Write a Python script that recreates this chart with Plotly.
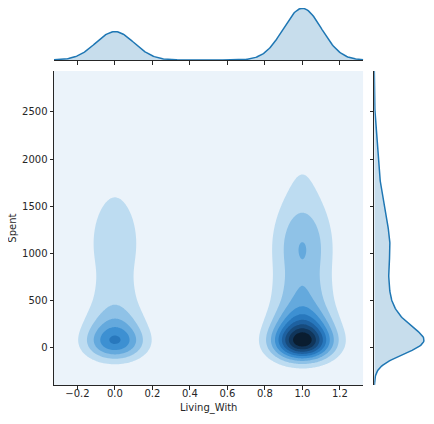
import numpy as np
import plotly.graph_objects as go

# ---------------- data ----------------
living_with_codes = [0, 1]            # x categories (0 = alone, 1 = with partner)
# Spent distribution of each group, described as bumps (centre, spread, height)
spent_centres = [45, 250, 480, 1000, 1400, 1950]
spent_spreads = [130, 140, 200, 330, 300, 300]
spent_heights_alone = [0.44, 0.168, 0.104, 0.14, 0.065, 0.04]
spent_heights_partner = [0.847, 0.323, 0.20, 0.27, 0.07, 0.07]
# kernel bandwidths along Living_With
bw_living_marginal = 0.102
bw_living_joint = 0.108

x_ticks = [-0.2, 0.0, 0.2, 0.4, 0.6, 0.8, 1.0, 1.2]
x_tick_labels = ["\u22120.2", "0.0", "0.2", "0.4", "0.6", "0.8", "1.0", "1.2"]
y_ticks = [0, 500, 1000, 1500, 2000, 2500]
y_tick_labels = ["0", "500", "1000", "1500", "2000", "2500"]
x_title = "Living_With"
y_title = "Spent"

# ---------------- derived densities ----------------
X_RANGE = [-0.325, 1.325]
Y_RANGE = [-400, 2935]
xg = np.linspace(X_RANGE[0], X_RANGE[1], 300)
yg = np.linspace(Y_RANGE[0], Y_RANGE[1], 300)


def profile(y, heights):
    out = np.zeros_like(y, dtype=float)
    for m, s, h in zip(spent_centres, spent_spreads, heights):
        out += h * np.exp(-0.5 * ((y - m) / s) ** 2)
    return out


def kernel(x, centre, bw):
    return np.exp(-0.5 * ((x - centre) / bw) ** 2) / (bw * np.sqrt(2 * np.pi))


group_heights = [spent_heights_alone, spent_heights_partner]
profiles = [profile(yg, h) for h in group_heights]
areas = [np.trapezoid(p, yg) for p in profiles]
shares = [a / sum(areas) for a in areas]

joint = np.zeros((len(yg), len(xg)))
for code, p in zip(living_with_codes, profiles):
    joint += np.outer(p, kernel(xg, code, bw_living_joint))
gx = sum(s * kernel(xg, c, bw_living_marginal) for s, c in zip(shares, living_with_codes))
fy = sum(profiles)

peak = joint.max()
step = 0.1 * peak

band_colors = ["#EBF3FA", "#BDDCF1", "#8FC2E7", "#64A9DD", "#3D90D2",
               "#2878BD", "#1E61A0", "#174B7D", "#10355A", "#0A1D30"]
n = len(band_colors)
colorscale = [[i / (n - 1), c] for i, c in enumerate(band_colors)]

AX = "#262626"
LINE = "#1f77b4"
FILL = "rgba(31,119,180,0.25)"

fig = go.Figure()
fig.add_trace(go.Contour(
    x=xg, y=yg, z=joint,
    autocontour=False,
    contours=dict(start=step, end=9 * step, size=step, coloring="fill", showlines=False),
    colorscale=colorscale, showscale=False, line=dict(width=0),
    hoverinfo="skip", xaxis="x", yaxis="y"))

fig.add_trace(go.Scatter(
    x=xg, y=gx, mode="lines", fill="tozeroy", fillcolor=FILL,
    line=dict(color=LINE, width=1.5), xaxis="x2", yaxis="y2", hoverinfo="skip"))

fig.add_trace(go.Scatter(
    x=fy, y=yg, mode="lines", fill="tozerox", fillcolor=FILL,
    line=dict(color=LINE, width=1.5), xaxis="x3", yaxis="y3", hoverinfo="skip"))

# page body has an 8px margin: place things in screen pixels
OFF = 8
FW, FH = 434 - OFF, 424 - OFF


def sx(p):
    return (p - OFF) / FW


def sy(p):
    return 1 - (p - OFF) / FH


main_x = [sx(54), sx(363.3)]
main_y = [sy(385), sy(71)]

# top marginal: baseline at 60px, peak at 8.3px; panel top clipped at 8px
top_base, top_peak, top_edge = 60.0, 8.3, 8.0
top_range = [0, gx.max() * (top_base - top_edge) / (top_base - top_peak)]
# right marginal: baseline at 374.3px, peak at 424px, panel right at 426.5px
r_base, r_peak, r_edge = 374.3, 424.0, 426.5
right_range = [0, fy.max() * (r_edge - r_base) / (r_peak - r_base)]

tick_style = dict(ticks="outside", ticklen=3.5, tickwidth=0.8, tickcolor=AX,
                  showline=True, linecolor=AX, linewidth=1,
                  showgrid=False, zeroline=False)

fig.update_layout(
    width=FW, height=FH, margin=dict(l=0, r=0, t=0, b=0),
    paper_bgcolor="white", plot_bgcolor="white", showlegend=False,
    font=dict(family="DejaVu Sans", size=10, color=AX),
    xaxis=dict(domain=main_x, range=X_RANGE, anchor="y", ticklabelstandoff=-5,
               tickvals=x_ticks, ticktext=x_tick_labels, **tick_style),
    yaxis=dict(domain=main_y, range=Y_RANGE, anchor="x",
               tickvals=y_ticks, ticktext=y_tick_labels, **tick_style),
    xaxis2=dict(domain=main_x, range=X_RANGE, anchor="y2", matches="x",
                tickvals=x_ticks, showticklabels=False, **tick_style),
    yaxis2=dict(domain=[sy(top_base), sy(top_edge)], range=top_range,
                anchor="x2", visible=False),
    xaxis3=dict(domain=[sx(r_base), sx(r_edge)], range=right_range,
                anchor="y3", visible=False),
    yaxis3=dict(domain=main_y, range=Y_RANGE, anchor="x3", matches="y",
                tickvals=y_ticks, showticklabels=False, **tick_style),
    annotations=[
        dict(text=x_title, x=(main_x[0] + main_x[1]) / 2, y=sy(407.5),
             xref="paper", yref="paper", showarrow=False, xanchor="center", yanchor="middle"),
        dict(text=y_title, x=sx(11.7), y=sy(228), textangle=-90,
             xref="paper", yref="paper", showarrow=False, xanchor="center", yanchor="middle"),
    ],
)

fig.write_html("out.html")
